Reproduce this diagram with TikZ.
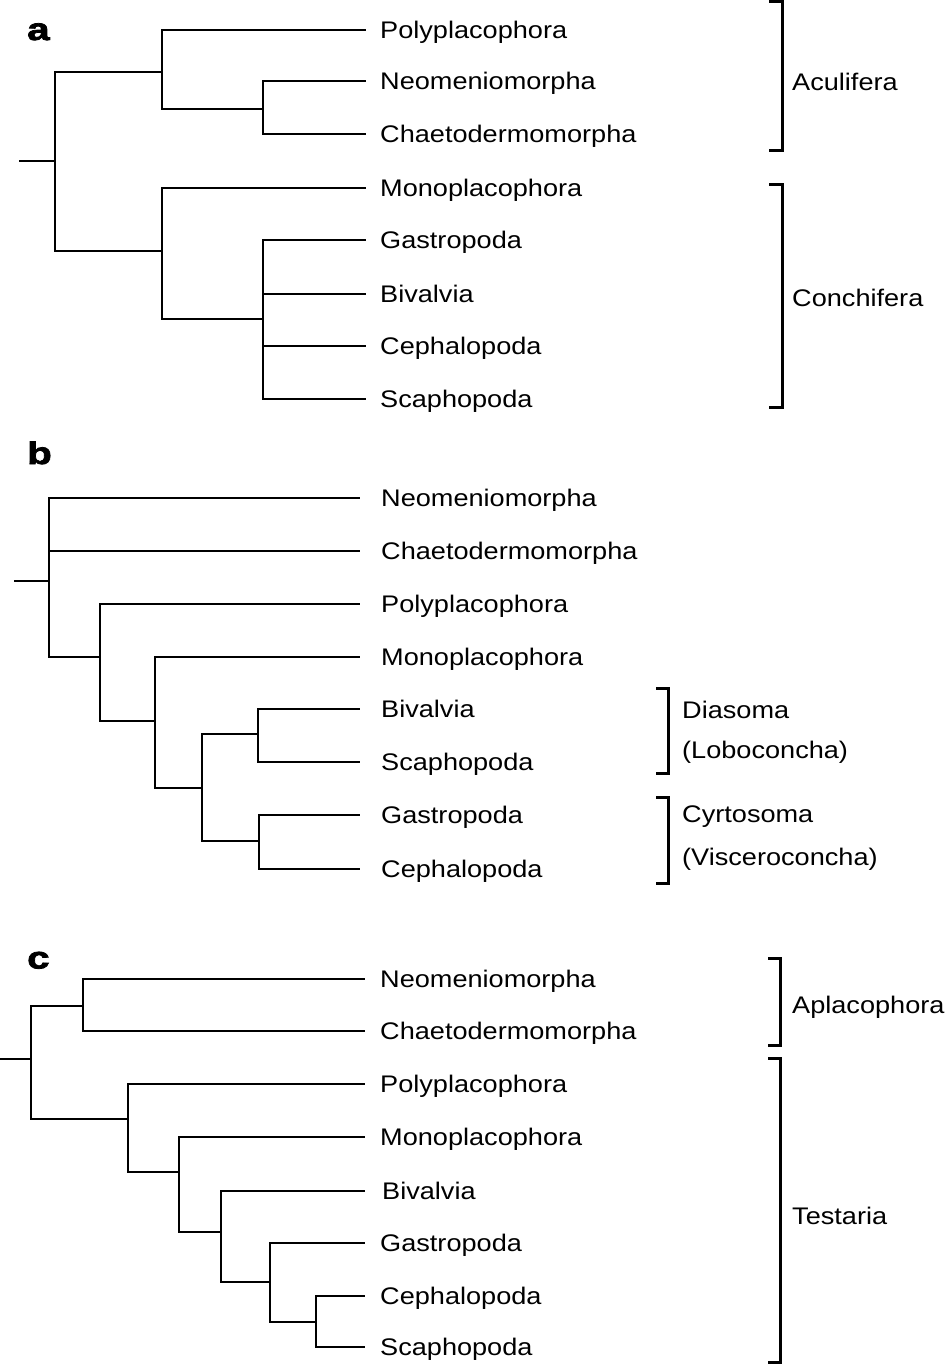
\documentclass[tikz,border=0pt]{standalone}
\usepackage{fontspec}
\setmainfont{Liberation Sans}[FakeStretch=1.13]
\newfontfamily\lettfont{Liberation Sans}[FakeStretch=1.3, BoldFeatures={FakeBold=2.5}]
\begin{document}
\begin{tikzpicture}[x=1pt,y=-1pt,
  br/.style={line width=2.4pt},
  bracket/.style={line width=3pt},
  taxon/.style={anchor=west, inner sep=0pt, text height=17.2pt, text depth=0pt, font=\fontsize{24}{28}\selectfont},
  clade/.style={taxon},
  panel/.style={anchor=base west, inner sep=0pt, font=\lettfont\bfseries\fontsize{31}{34}\selectfont}]
\useasboundingbox (0,0) rectangle (946,1364);

% ---------------- panel a ----------------
\node[panel] (la) at (27,40) {a};
\coordinate (a0) at (19,161);
\coordinate (ar) at (55,161);
\coordinate (a1) at (162,72);
\coordinate (a2) at (263,109);
\coordinate (a3) at (162,251);
\coordinate (a4) at (263,319);
\node[taxon] (aPoly) at (380,30) {Polyplacophora};
\node[taxon] (aNeo) at (380,81) {Neomeniomorpha};
\node[taxon] (aChae) at (380,134) {Chaetodermomorpha};
\node[taxon] (aMono) at (380,188) {Monoplacophora};
\node[taxon] (aGast) at (380,240) {Gastropoda};
\node[taxon] (aBiv) at (380,294) {Bivalvia};
\node[taxon] (aCeph) at (380,346) {Cephalopoda};
\node[taxon] (aScap) at (380,399) {Scaphopoda};
\draw[br] (a0) -- (ar);
\draw[br] (ar) |- (a1);
\draw[br] (ar) |- (a3);
\draw[br] (a1) |- ([xshift=-14pt]aPoly.west);
\draw[br] (a1) |- (a2);
\draw[br] (a2) |- ([xshift=-14pt]aNeo.west);
\draw[br] (a2) |- ([xshift=-14pt]aChae.west);
\draw[br] (a3) |- ([xshift=-14pt]aMono.west);
\draw[br] (a3) |- (a4);
\draw[br] (a4) |- ([xshift=-14pt]aGast.west);
\draw[br] (a4) |- ([xshift=-14pt]aBiv.west);
\draw[br] (a4) |- ([xshift=-14pt]aCeph.west);
\draw[br] (a4) |- ([xshift=-14pt]aScap.west);
\draw[bracket] (769,1.5) -- (782,1.5) -- (782,151) -- (769,151);
\draw[bracket] (769,185) -- (782,185) -- (782,407) -- (769,407);
\node[clade] (aAcul) at (792,82) {Aculifera};
\node[clade] (aConc) at (792,298) {Conchifera};

% ---------------- panel b ----------------
\node[panel] (lb) at (27,464) {b};
\coordinate (b0) at (14,581);
\coordinate (br) at (49,581);
\coordinate (b1) at (100,657);
\coordinate (b2) at (155,721);
\coordinate (b3) at (202,788);
\coordinate (b4) at (258,734);
\coordinate (b5) at (259,841);
\node[taxon] (bNeo) at (381,498) {Neomeniomorpha};
\node[taxon] (bChae) at (381,551) {Chaetodermomorpha};
\node[taxon] (bPoly) at (381,604) {Polyplacophora};
\node[taxon] (bMono) at (381,657) {Monoplacophora};
\node[taxon] (bBiv) at (381,709) {Bivalvia};
\node[taxon] (bScap) at (381,762) {Scaphopoda};
\node[taxon] (bGast) at (381,815) {Gastropoda};
\node[taxon] (bCeph) at (381,869) {Cephalopoda};
\draw[br] (b0) -- (br);
\draw[br] (br) |- ([xshift=-21pt]bNeo.west);
\draw[br] (br) |- ([xshift=-21pt]bChae.west);
\draw[br] (br) |- (b1);
\draw[br] (b1) |- ([xshift=-21pt]bPoly.west);
\draw[br] (b1) |- (b2);
\draw[br] (b2) |- ([xshift=-21pt]bMono.west);
\draw[br] (b2) |- (b3);
\draw[br] (b3) |- (b4);
\draw[br] (b3) |- (b5);
\draw[br] (b4) |- ([xshift=-21pt]bBiv.west);
\draw[br] (b4) |- ([xshift=-21pt]bScap.west);
\draw[br] (b5) |- ([xshift=-21pt]bGast.west);
\draw[br] (b5) |- ([xshift=-21pt]bCeph.west);
\draw[bracket] (656,688) -- (668,688) -- (668,773) -- (656,773);
\draw[bracket] (656,797) -- (668,797) -- (668,883) -- (656,883);
\node[clade] (bDia) at (682,710) {Diasoma};
\node[clade] (bLob) at (682,750) {(Loboconcha)};
\node[clade] (bCyr) at (682,814) {Cyrtosoma};
\node[clade] (bVis) at (682,857) {(Visceroconcha)};

% ---------------- panel c ----------------
\node[panel] (lc) at (27,968.5) {c};
\coordinate (c0) at (0,1059);
\coordinate (cr) at (31,1059);
\coordinate (c1) at (83,1006);
\coordinate (c2) at (128,1119);
\coordinate (c3) at (179,1172);
\coordinate (c4) at (221,1232);
\coordinate (c5) at (270,1282);
\coordinate (c6) at (316,1322);
\node[taxon] (cNeo) at (380,979) {Neomeniomorpha};
\node[taxon] (cChae) at (380,1031) {Chaetodermomorpha};
\node[taxon] (cPoly) at (380,1084) {Polyplacophora};
\node[taxon] (cMono) at (380,1137) {Monoplacophora};
\node[taxon] (cBiv) at (382,1191) {Bivalvia};
\node[taxon] (cGast) at (380,1243) {Gastropoda};
\node[taxon] (cCeph) at (380,1296) {Cephalopoda};
\node[taxon] (cScap) at (380,1347) {Scaphopoda};
\draw[br] (c0) -- (cr);
\draw[br] (cr) |- (c1);
\draw[br] (cr) |- (c2);
\draw[br] (c1) |- ([xshift=-15pt]cNeo.west);
\draw[br] (c1) |- ([xshift=-15pt]cChae.west);
\draw[br] (c2) |- ([xshift=-15pt]cPoly.west);
\draw[br] (c2) |- (c3);
\draw[br] (c3) |- ([xshift=-15pt]cMono.west);
\draw[br] (c3) |- (c4);
\draw[br] (c4) |- ([xshift=-17pt]cBiv.west);
\draw[br] (c4) |- (c5);
\draw[br] (c5) |- ([xshift=-15pt]cGast.west);
\draw[br] (c5) |- (c6);
\draw[br] (c6) |- ([xshift=-15pt]cCeph.west);
\draw[br] (c6) |- ([xshift=-15pt]cScap.west);
\draw[bracket] (768,958) -- (780,958) -- (780,1045) -- (768,1045);
\draw[bracket] (768,1058) -- (780,1058) -- (780,1362.5) -- (768,1362.5);
\node[clade] (cApl) at (792,1005) {Aplacophora};
\node[clade] (cTes) at (792,1216) {Testaria};
\end{tikzpicture}
\end{document}
